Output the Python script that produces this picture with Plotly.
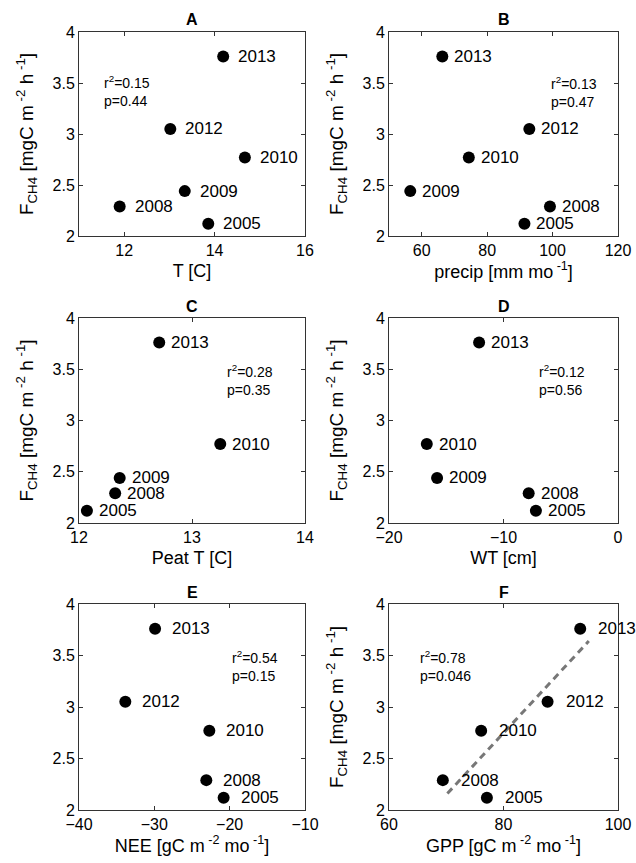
import plotly.graph_objects as go

# ---------------- data ----------------
fch4 = {"2005": 2.12, "2008": 2.29, "2009": 2.44, "2010": 2.77, "2012": 3.05, "2013": 3.76}

T_years = ["2013", "2012", "2010", "2009", "2008", "2005"]
T_vals = [14.19, 13.02, 14.67, 13.34, 11.90, 13.86]

precip_years = ["2013", "2012", "2010", "2009", "2008", "2005"]
precip_vals = [66.3, 92.9, 74.4, 56.5, 99.2, 91.4]

peatT_years = ["2013", "2010", "2009", "2008", "2005"]
peatT_vals = [12.71, 13.25, 12.36, 12.32, 12.07]

wt_years = ["2013", "2010", "2009", "2008", "2005"]
wt_vals = [-12.13, -16.7, -15.8, -7.8, -7.17]

nee_years = ["2013", "2012", "2010", "2008", "2005"]
nee_vals = [-29.9, -33.85, -22.7, -23.1, -20.8]

gpp_years = ["2013", "2012", "2010", "2008", "2005"]
gpp_vals = [93.4, 87.7, 76.1, 69.4, 77.1]
gpp_fit_x = [70.2, 94.9]
gpp_fit_y = [2.16, 3.64]

stats = {
    "A": ("0.15", "0.44"),
    "B": ("0.13", "0.47"),
    "C": ("0.28", "0.35"),
    "D": ("0.12", "0.56"),
    "E": ("0.54", "0.15"),
    "F": ("0.78", "0.046"),
}

y_ticks = [2, 2.5, 3, 3.5, 4]
y_ticktext = ["2", "2.5", "3", "3.5", "4"]

# ---------------- layout constants ----------------
W, H = 636, 863
FONT = "Liberation Sans, Arial, Helvetica, sans-serif"
FRAME = "#333333"


def px_x(px):
    return px / W


def px_y(py):
    return 1 - py / H


panels = [
    ("A", T_years, T_vals, [11, 16], [12, 14, 16], "T [C]", True, (79, 305, 32, 236), (11.5, 3.42), 13),
    ("B", precip_years, precip_vals, [50, 120], [60, 80, 100, 120], "precip [mm mo<sup> -1</sup>]", True, (389, 618, 32, 236), (98.9, 3.41), 10),
    ("C", peatT_years, peatT_vals, [12, 14], [12, 13, 14], "Peat T [C]", True, (79, 305, 318, 523), (13.29, 3.40), 10),
    ("D", wt_years, wt_vals, [-20, 0], [-20, -10, 0], "WT [cm]", True, (389, 618, 318, 523), (-7.1, 3.40), 10),
    ("E", nee_years, nee_vals, [-40, -10], [-40, -30, -20, -10], "NEE [gC m<sup> -2</sup> mo<sup> -1</sup>]", False, (79, 305, 604, 810), (-20.0, 3.40), 15),
    ("F", gpp_years, gpp_vals, [60, 100], [60, 80, 100], "GPP [gC m<sup> -2</sup> mo<sup> -1</sup>]", True, (389, 618, 604, 810), (65.0, 3.40), 16),
]

fig = go.Figure()
annotations = []
ytitle = "F<sub>CH4</sub> [mgC m<sup> -2</sup> h<sup> -1</sup>]"

for i, (letter, years, xv, xr, xt, xtitle, has_yt, box, spos, lshift) in enumerate(panels):
    n = "" if i == 0 else str(i + 1)
    xa, ya = "x" + n, "y" + n
    l, r, t, b = box
    yv = [fch4[y] for y in years]
    fig.add_trace(go.Scatter(
        x=xv, y=yv, mode="markers", xaxis=xa, yaxis=ya,
        marker=dict(size=12, color="black"), showlegend=False, cliponaxis=False,
    ))
    if letter == "F":
        fig.add_trace(go.Scatter(
            x=gpp_fit_x, y=gpp_fit_y, mode="lines", xaxis=xa, yaxis=ya,
            line=dict(color="#777777", width=3, dash="7px,5px"), showlegend=False,
        ))
    for yr, x, y in zip(years, xv, yv):
        annotations.append(dict(
            x=x, y=y, xref=xa, yref=ya, text=yr, showarrow=False,
            xanchor="left", yanchor="middle", xshift=lshift,
            font=dict(family=FONT, size=17, color="black"),
        ))
    r2, p = stats[letter]
    annotations.append(dict(
        x=spos[0], y=spos[1], xref=xa, yref=ya,
        text=f"r<sup>2</sup>=%s<br>p=%s" % (r2, p), showarrow=False,
        xanchor="left", yanchor="middle", align="left",
        font=dict(family=FONT, size=14, color="black"),
    ))
    annotations.append(dict(
        x=px_x((l + r) / 2), y=px_y(t - 12), xref="paper", yref="paper",
        text=f"<b>{letter}</b>", showarrow=False, xanchor="center", yanchor="middle",
        font=dict(family=FONT, size=16, color="black"),
    ))
    axis_common = dict(
        showline=True, mirror="ticks", linecolor=FRAME, linewidth=1,
        ticks="inside", ticklen=4, tickcolor=FRAME, tickwidth=1,
        showgrid=False, zeroline=False, automargin=False,
        tickfont=dict(family=FONT, size=16, color="black"),
    )
    fig.layout["xaxis" + n] = dict(
        axis_common, domain=[px_x(l), px_x(r)], range=xr, tickvals=xt,
        anchor=ya,
        title=dict(text=xtitle, font=dict(family=FONT, size=18, color="black"), standoff=6),
    )
    fig.layout["yaxis" + n] = dict(
        axis_common, domain=[px_y(b), px_y(t)], range=[2, 4],
        tickvals=y_ticks, ticktext=y_ticktext, anchor=xa,
        title=dict(text=ytitle if has_yt else "", font=dict(family=FONT, size=19, color="black"), standoff=13),
    )

fig.update_layout(
    width=W, height=H, margin=dict(l=0, r=0, t=0, b=0),
    paper_bgcolor="white", plot_bgcolor="white",
    annotations=annotations, font=dict(family=FONT),
)

fig.write_html(
    "out.html",
    config={"displayModeBar": False},
    post_script="document.body.style.margin='0';document.body.style.overflow='hidden';",
)
